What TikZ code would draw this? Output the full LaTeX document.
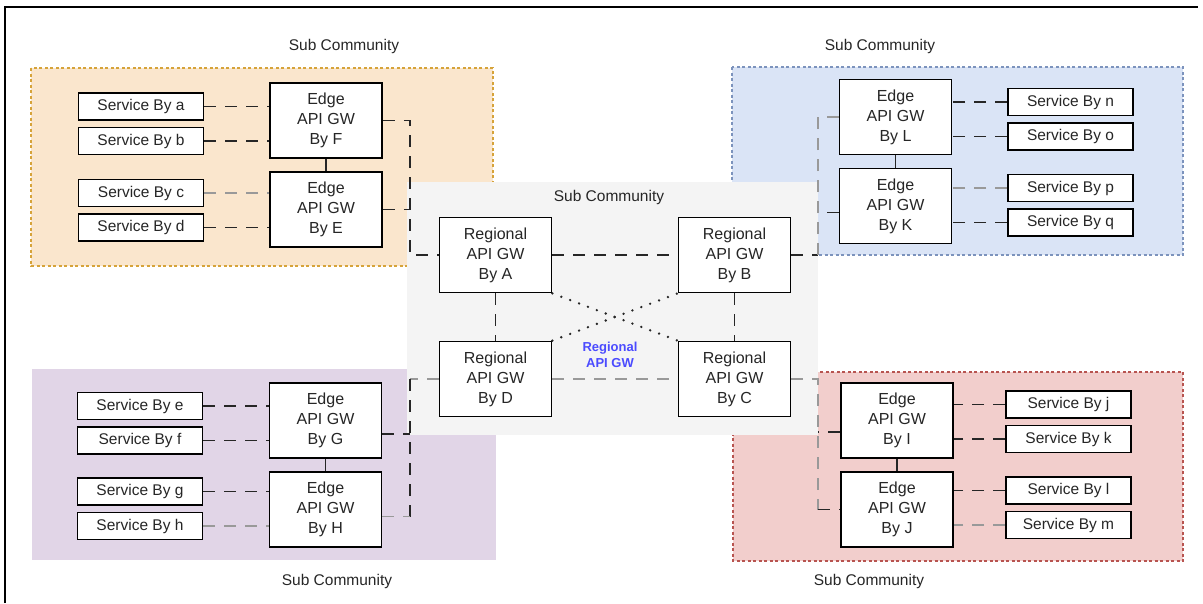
\documentclass[tikz,border=0pt]{standalone}
\usepackage{fontspec}
\setmainfont{Liberation Sans}
\usetikzlibrary{positioning}

\definecolor{orangebg}{HTML}{FAE6CD}
\definecolor{orangeln}{HTML}{D6A339}
\definecolor{bluebg}{HTML}{DAE4F6}
\definecolor{blueln}{HTML}{7C93BD}
\definecolor{purplebg}{HTML}{E1D5E7}
\definecolor{redbg}{HTML}{F2CECC}
\definecolor{redln}{HTML}{B85450}
\definecolor{centerbg}{HTML}{F4F4F4}
\definecolor{gwlabel}{HTML}{4B4BFF}

\tikzset{
  svc/.style={draw,line width=1.8pt,fill=white,minimum width=125pt,minimum height=27pt,
    inner sep=0pt,text=black!85,font=\fontsize{15.5}{18}\selectfont},
  gw/.style={draw,line width=1.8pt,fill=white,minimum width=112pt,minimum height=75pt,
    inner sep=0pt,align=center,text=black!85,font=\fontsize{16}{20}\selectfont},
  title/.style={text=black!85,font=\fontsize{15.5}{18}\selectfont},
  link/.style={line width=1.8pt,black!85,dash pattern=on 12pt off 9pt},
  glink/.style={link,black!40},
  tie/.style={line width=1.8pt,black!85},
  cross/.style={line width=2.6pt,black!85,line cap=round,dash pattern=on 0pt off 9.5pt}
}

\begin{document}
\begin{tikzpicture}[x=1pt,y=-1pt,node distance=34.5pt]
  \useasboundingbox (0,0) rectangle (1203,603);
  \draw[line width=1.5pt] (5,603) -- (5,7) -- (1198,7);

  % sub communities
  \filldraw[fill=orangebg,draw=orangeln,line width=1.2pt,dash pattern=on 3pt off 2.5pt] (31,68) rectangle (493,266);
  \filldraw[fill=bluebg,draw=blueln,line width=1.2pt,dash pattern=on 3pt off 2.5pt] (732,67) rectangle (1183,255);
  \fill[purplebg] (32,369) rectangle (496,560);
  \filldraw[fill=redbg,draw=redln,line width=1.2pt,dash pattern=on 3pt off 2.5pt] (733,372) rectangle (1183,561);
  \fill[centerbg] (407,182) rectangle (818,435);

  \node[title] (t1) at (344,46) {Sub Community};
  \node[title] (t2) at (880,46) {Sub Community};
  \node[title] (t3) at (609,197) {Sub Community};
  \node[title] (t4) at (337,581) {Sub Community};
  \node[title] (t5) at (869,581) {Sub Community};

  % regional gateways
  \node[gw] (A) at (495.5,255) {Regional\\API GW\\By A};
  \node[gw] (B) at (734.5,255) {Regional\\API GW\\By B};
  \node[gw] (D) at (495.5,379) {Regional\\API GW\\By D};
  \node[gw] (C) at (734.5,379) {Regional\\API GW\\By C};
  \node[text=gwlabel,align=center,font=\bfseries\fontsize{13}{15.5}\selectfont] (rlbl) at (610,355) {Regional\\API GW};

  % edge gateways
  \node[gw] (F) at (326,120.5) {Edge\\API GW\\By F};
  \node[gw] (E) [below of=F,node distance=89pt] {Edge\\API GW\\By E};
  \node[gw] (L) at (895.5,117) {Edge\\API GW\\By L};
  \node[gw] (K) [below of=L,node distance=89pt] {Edge\\API GW\\By K};
  \node[gw] (G) at (325.5,420.5) {Edge\\API GW\\By G};
  \node[gw] (H) [below of=G,node distance=89pt] {Edge\\API GW\\By H};
  \node[gw] (I) at (897,420.5) {Edge\\API GW\\By I};
  \node[gw] (J) [below of=I,node distance=89pt] {Edge\\API GW\\By J};

  % services
  \node[svc] (sa) at (141,106.5) {Service By a};
  \node[svc] (sb) [below of=sa] {Service By b};
  \node[svc] (sc) [below of=sb,node distance=52pt] {Service By c};
  \node[svc] (sd) [below of=sc] {Service By d};
  \node[svc] (se) at (140,406) {Service By e};
  \node[svc] (sf) [below of=se] {Service By f};
  \node[svc] (sg) [below of=sf,node distance=51pt] {Service By g};
  \node[svc] (sh) [below of=sg] {Service By h};
  \node[svc] (sj) at (1068.5,404.5) {Service By j};
  \node[svc] (sk) [below of=sj] {Service By k};
  \node[svc] (sl) [below of=sk,node distance=51.5pt] {Service By l};
  \node[svc] (sm) [below of=sl] {Service By m};
  \node[svc] (sn) at (1070.5,102) {Service By n};
  \node[svc] (so) [below of=sn] {Service By o};
  \node[svc] (sp) [below of=so,node distance=51.5pt] {Service By p};
  \node[svc] (sq) [below of=sp] {Service By q};

  \coordinate (busL) at (410,0);
  \coordinate (busR) at (818,0);

  % services to edges
  \draw[link] (sa.east) -- (sa.east -| F.west);
  \draw[link] (sb.east) -- (sb.east -| F.west);
  \draw[glink] (sc.east) -- (sc.east -| E.west);
  \draw[link] (sd.east) -- (sd.east -| E.west);
  \draw[link] (se.east) -- (se.east -| G.west);
  \draw[link] (sf.east) -- (sf.east -| G.west);
  \draw[link] (sg.east) -- (sg.east -| H.west);
  \draw[glink] (sh.east) -- (sh.east -| H.west);
  \draw[link] (sj.west) -- (sj.west -| I.east);
  \draw[link] (sk.west) -- (sk.west -| I.east);
  \draw[link] (sl.west) -- (sl.west -| J.east);
  \draw[glink] (sm.west) -- (sm.west -| J.east);
  \draw[link] (sn.west) -- (sn.west -| L.east);
  \draw[link] (so.west) -- (so.west -| L.east);
  \draw[glink] (sp.west) -- (sp.west -| K.east);
  \draw[link] (sq.west) -- (sq.west -| K.east);

  \draw[tie] (F) -- (E);
  \draw[tie] (L) -- (K);
  \draw[tie] (G) -- (H);
  \draw[tie] (I) -- (J);

  % edges to regionals
  \draw[link] (F.east) -- (F.east -| busL) |- (A.west);
  \draw[link] (E.east) -- (E.east -| busL);
  \draw[link] (B.east) -- (B.east -| busR);
  \draw[glink] (B.east -| busR) |- (L.west);
  \draw[link] ([yshift=-6.5pt]K.west) -- ([yshift=-6.5pt]K.west -| busR);
  \draw[glink] (D.west) -- (D.west -| busL);
  \draw[link] (D.west -| busL) -- ([yshift=-7pt]H.east -| busL);
  \draw[glink] ([yshift=-7pt]H.east) -- ([yshift=-7pt]H.east -| busL);
  \draw[link] ([yshift=-13.5pt]G.east) -- ([yshift=-13.5pt]G.east -| busL);
  \draw[glink] (C.east) -| (J.west -| busR);
  \draw[link] (J.west -| busR) -- (J.west);
  \draw[link] ([yshift=-11.5pt]I.west) -- ([yshift=-11.5pt]I.west -| busR);

  % regional mesh
  \draw[link] (A) -- (B);
  \draw[link] (A) -- (D);
  \draw[link] (B) -- (C);
  \draw[glink] (D) -- (C);
  \draw[cross] (A.south east) -- (C.north west);
  \draw[cross] (D.north east) -- (B.south west);
\end{tikzpicture}
\end{document}
